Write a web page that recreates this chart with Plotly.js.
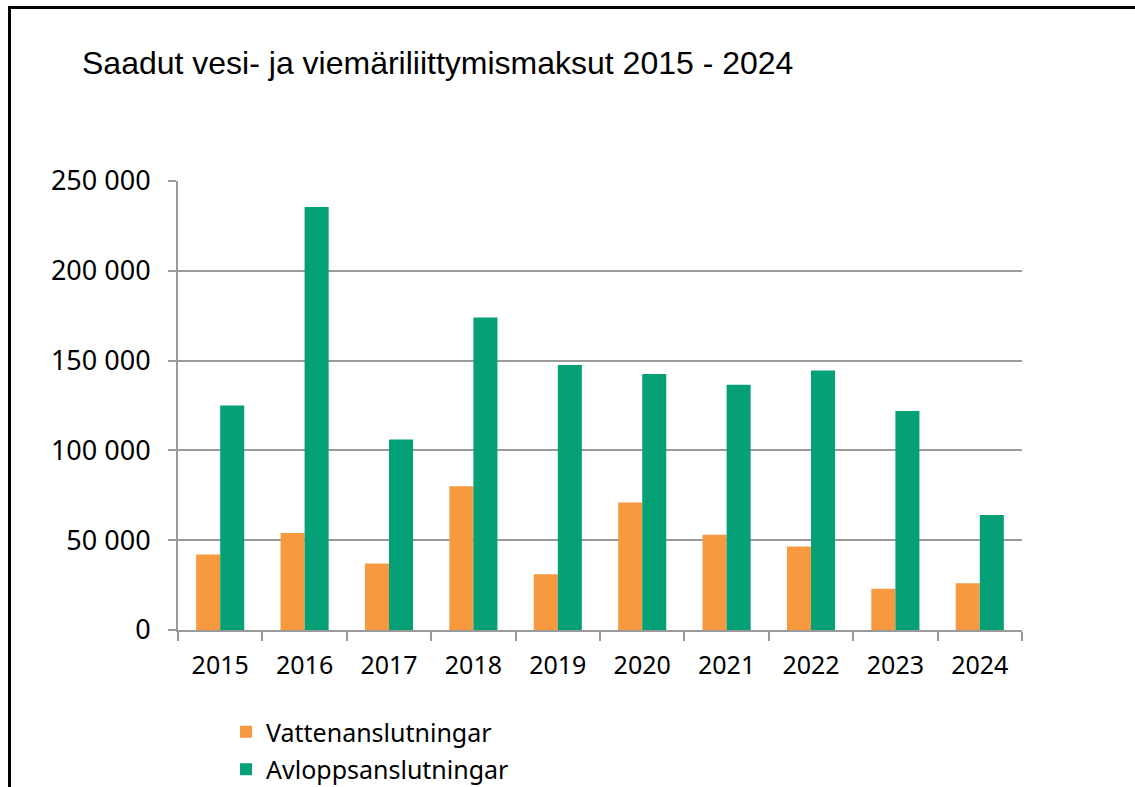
<!DOCTYPE html>
<html>
<head>
<meta charset="utf-8">
<script src="https://cdn.plot.ly/plotly-3.0.1.min.js"></script>
<style>
html,body{margin:0;padding:0;background:#fff;}
#wrap{position:relative;width:1135px;height:787px;overflow:hidden;}
#chart{position:absolute;left:0;top:0;width:1135px;height:787px;}
#frame{position:absolute;left:8px;top:6px;width:1200px;height:900px;border-left:3px solid #000;border-top:3px solid #000;pointer-events:none;}
</style>
</head>
<body>
<div id="wrap"><div id="chart"></div><div id="frame"></div></div>
<script>
const years = ['2015','2016','2017','2018','2019','2020','2021','2022','2023','2024'];
const vattenanslutningar = [42000, 54000, 37000, 80000, 31000, 71000, 53000, 46500, 23000, 26000];
const avloppsanslutningar = [125000, 235500, 106000, 174000, 147500, 142500, 136500, 144500, 122000, 64000];
const seriesNames = ['Vattenanslutningar', 'Avloppsanslutningar'];
const titleText = 'Saadut vesi- ja viemäriliittymismaksut 2015 - 2024';

const xFont = {family: 'Noto Sans, sans-serif', size: 25, color: '#000'};
const yFont = {family: 'Noto Sans, sans-serif', size: 27, color: '#000'};

const data = [
  {type: 'bar', x: years, y: vattenanslutningar, name: seriesNames[0], legendgroup: 'a', marker: {color: '#F7993F'}},
  {type: 'bar', x: years, y: avloppsanslutningar, name: seriesNames[1], legendgroup: 'b', marker: {color: '#06A077'}}
];

const layout = {
  width: 1135, height: 787,
  margin: {l: 178, r: 113, t: 181, b: 157, autoexpand: false},
  paper_bgcolor: '#fff', plot_bgcolor: '#fff',
  separators: ', ',
  barmode: 'group', bargap: 0.43, bargroupgap: 0,
  title: {text: titleText, x: 82/1135, xanchor: 'left', y: 1 - 63/787, yanchor: 'middle',
          font: {family: 'Liberation Sans, Arial, sans-serif', size: 32, color: '#000'}},
  xaxis: {type: 'category', tickfont: xFont, showgrid: false, showline: true, linecolor: '#9a9a9a', linewidth: 2,
          ticks: 'outside', tickson: 'boundaries', ticklen: 9, tickwidth: 2, tickcolor: '#9a9a9a', zeroline: false,
          ticklabelstandoff: 12, automargin: false},
  yaxis: {range: [0, 250000], dtick: 50000, tickformat: ',d', tickfont: yFont, showgrid: true, gridcolor: '#9a9a9a', gridwidth: 2,
          showline: true, linecolor: '#9a9a9a', linewidth: 2, ticks: 'outside', ticklen: 8, tickwidth: 2, tickcolor: '#9a9a9a',
          zeroline: false, fixedrange: true, ticklabelstandoff: 12, automargin: false},
  showlegend: true,
  legend: {orientation: 'v', x: (226-178)/844, xanchor: 'left', y: -(709-630)/449, yanchor: 'top',
           font: {family: 'Noto Sans, sans-serif', size: 25, color: '#000'}, bgcolor: 'rgba(0,0,0,0)', tracegroupgap: 2, itemwidth: 30}
};

Plotly.newPlot('chart', data, layout, {displayModeBar: false, staticPlot: true});
</script>
</body>
</html>
